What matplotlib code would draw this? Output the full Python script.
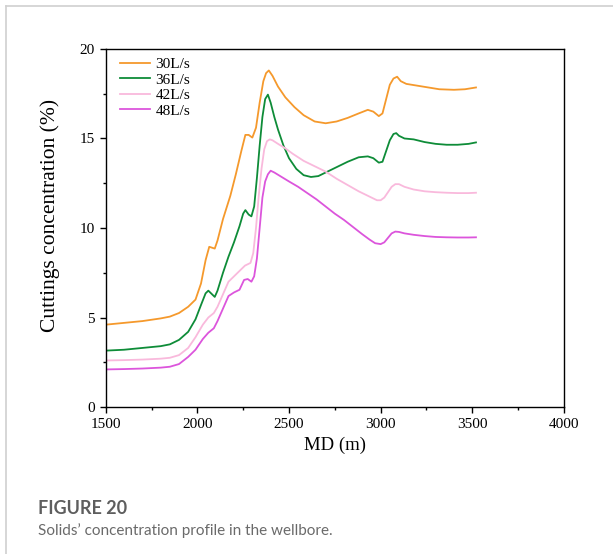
import matplotlib
matplotlib.use("Agg")
import matplotlib.pyplot as plt
from matplotlib.lines import Line2D
from matplotlib.ticker import MultipleLocator

# measured depth (m) and cuttings concentration (%) for each flow rate
md_30 = [1500, 1600, 1700, 1800, 1850, 1900, 1950, 1990, 2020, 2045, 2065, 2080, 2095, 2110,
         2140, 2180, 2210, 2240, 2262, 2280, 2300, 2320, 2340, 2360, 2375, 2390, 2410, 2440,
         2480, 2530, 2580, 2640, 2700, 2760, 2820, 2880, 2930, 2960, 2990, 3010, 3030, 3050,
         3070, 3090, 3110, 3140, 3200, 3260, 3320, 3400, 3460, 3520]
conc_30 = [4.6, 4.7, 4.8, 4.95, 5.05, 5.25, 5.6, 6.0, 6.9, 8.2, 8.95, 8.9, 8.85, 9.3,
           10.5, 11.8, 13.0, 14.3, 15.2, 15.2, 15.05, 15.6, 17.0, 18.2, 18.65, 18.8, 18.5, 17.9,
           17.3, 16.75, 16.3, 15.95, 15.85, 15.95, 16.15, 16.4, 16.6, 16.5, 16.25, 16.4, 17.2, 18.0,
           18.35, 18.45, 18.2, 18.05, 17.95, 17.85, 17.75, 17.72, 17.75, 17.85]

md_36 = [1500, 1600, 1700, 1800, 1850, 1900, 1950, 1990, 2020, 2045, 2060, 2075, 2095, 2110,
         2140, 2170, 2200, 2230, 2250, 2262, 2280, 2295, 2310, 2325, 2340, 2355, 2370, 2385,
         2400, 2420, 2440, 2470, 2500, 2540, 2580, 2620, 2660, 2700, 2760, 2820, 2880, 2930,
         2960, 2990, 3010, 3030, 3050, 3070, 3085, 3100, 3130, 3180, 3240, 3300, 3360, 3420,
         3480, 3520]
conc_36 = [3.15, 3.2, 3.3, 3.4, 3.5, 3.75, 4.2, 4.9, 5.7, 6.35, 6.5, 6.35, 6.15, 6.5,
           7.5, 8.4, 9.2, 10.1, 10.8, 11.0, 10.75, 10.65, 11.2, 12.8, 14.6, 16.2, 17.2, 17.45,
           17.0, 16.2, 15.5, 14.6, 13.9, 13.3, 12.95, 12.85, 12.9, 13.1, 13.4, 13.7, 13.95, 14.0,
           13.9, 13.65, 13.7, 14.3, 14.9, 15.25, 15.3, 15.15, 15.0, 14.95, 14.8, 14.7, 14.65, 14.65,
           14.7, 14.78]

md_42 = [1500, 1600, 1700, 1800, 1850, 1900, 1950, 1990, 2030, 2060, 2090, 2110, 2140, 2170,
         2200, 2230, 2260, 2290, 2305, 2320, 2335, 2350, 2365, 2380, 2395, 2410, 2440, 2480,
         2520, 2580, 2640, 2700, 2760, 2820, 2880, 2940, 2980, 3000, 3020, 3040, 3060, 3080,
         3100, 3130, 3180, 3240, 3300, 3360, 3420, 3480, 3520]
conc_42 = [2.6, 2.62, 2.65, 2.7, 2.75, 2.9, 3.3, 3.9, 4.6, 5.0, 5.25, 5.6, 6.3, 7.0,
           7.3, 7.6, 7.9, 8.05, 8.6, 10.0, 11.8, 13.3, 14.4, 14.85, 14.95, 14.9, 14.7, 14.45,
           14.15, 13.75, 13.45, 13.15, 12.75, 12.4, 12.05, 11.75, 11.55, 11.55, 11.7, 12.0, 12.3, 12.45,
           12.45, 12.3, 12.15, 12.05, 12.0, 11.97, 11.95, 11.95, 11.97]

md_48 = [1500, 1600, 1700, 1800, 1850, 1900, 1950, 1990, 2030, 2060, 2090, 2110, 2140, 2170,
         2200, 2230, 2255, 2275, 2295, 2310, 2325, 2340, 2355, 2370, 2385, 2400, 2420, 2460,
         2500, 2550, 2600, 2650, 2700, 2750, 2800, 2850, 2900, 2940, 2970, 3000, 3020, 3040,
         3060, 3080, 3100, 3130, 3180, 3240, 3300, 3360, 3420, 3480, 3520]
conc_48 = [2.1, 2.12, 2.15, 2.2, 2.25, 2.4, 2.8, 3.2, 3.8, 4.15, 4.4, 4.8, 5.5, 6.2,
           6.4, 6.55, 7.1, 7.15, 7.0, 7.3, 8.3, 10.0, 11.7, 12.6, 13.0, 13.2, 13.1, 12.85,
           12.6, 12.3, 11.95, 11.6, 11.2, 10.8, 10.45, 10.05, 9.65, 9.35, 9.15, 9.1, 9.2, 9.45,
           9.7, 9.8, 9.78, 9.7, 9.62, 9.55, 9.5, 9.48, 9.47, 9.47, 9.48]

labels = ["30L/s", "36L/s", "42L/s", "48L/s"]
colors = ["#f5992c", "#0e8c38", "#f9b9dc", "#dc55dc"]

fig = plt.figure(figsize=(6.13, 5.54), dpi=100)
ax = fig.add_axes([0.1724, 0.2653, 0.7476, 0.6463])

serif = "Liberation Serif"
series = [(md_30, conc_30), (md_36, conc_36), (md_42, conc_42), (md_48, conc_48)]
for (x, y), lab, c in zip(series, labels, colors):
    ax.plot(x, y, color=c, lw=1.3, label=lab)

ax.set_xlim(1500, 4000)
ax.set_ylim(0, 20)
ax.xaxis.set_major_locator(MultipleLocator(500))
ax.xaxis.set_minor_locator(MultipleLocator(250))
ax.yaxis.set_major_locator(MultipleLocator(5))
ax.yaxis.set_minor_locator(MultipleLocator(2.5))
ax.tick_params(which="both", direction="out", top=False, right=False, width=1.0, labelsize=11)
ax.tick_params(which="major", length=4.5)
ax.tick_params(which="minor", length=2.5)
for lbl in ax.get_xticklabels() + ax.get_yticklabels():
    lbl.set_fontfamily(serif)
for sp in ax.spines.values():
    sp.set_linewidth(1.0)

ax.set_xlabel("MD (m)", fontfamily=serif, fontsize=13.5, labelpad=4)
ax.set_ylabel("Cuttings concentration (%)", fontfamily=serif, fontsize=15.5)
ax.yaxis.set_label_coords(-0.1, 0.535)

leg = ax.legend(loc="upper left", bbox_to_anchor=(0.012, 1.0), frameon=False,
                handlelength=2.0, handletextpad=0.35, labelspacing=0.12,
                borderaxespad=0.15, prop={"family": serif, "size": 11})

# thin page frame and caption
fig.add_artist(Line2D([0.0098, 1.0], [0.9892, 0.9892], transform=fig.transFigure,
                      color="#d0d0d0", lw=1.2))
fig.add_artist(Line2D([0.0098, 0.0098], [0.0, 0.9892], transform=fig.transFigure,
                      color="#d0d0d0", lw=1.2))
fig.text(0.062, 0.083, "FIGURE 20", fontfamily="Lato", fontweight="bold",
         fontsize=13, color="#5e5e5e", va="center")
fig.text(0.062, 0.043, "Solids\u2019 concentration profile in the wellbore.",
         fontfamily="Lato", fontsize=11, color="#6a6a6a", va="center")

fig.savefig("out.png", dpi=100)
